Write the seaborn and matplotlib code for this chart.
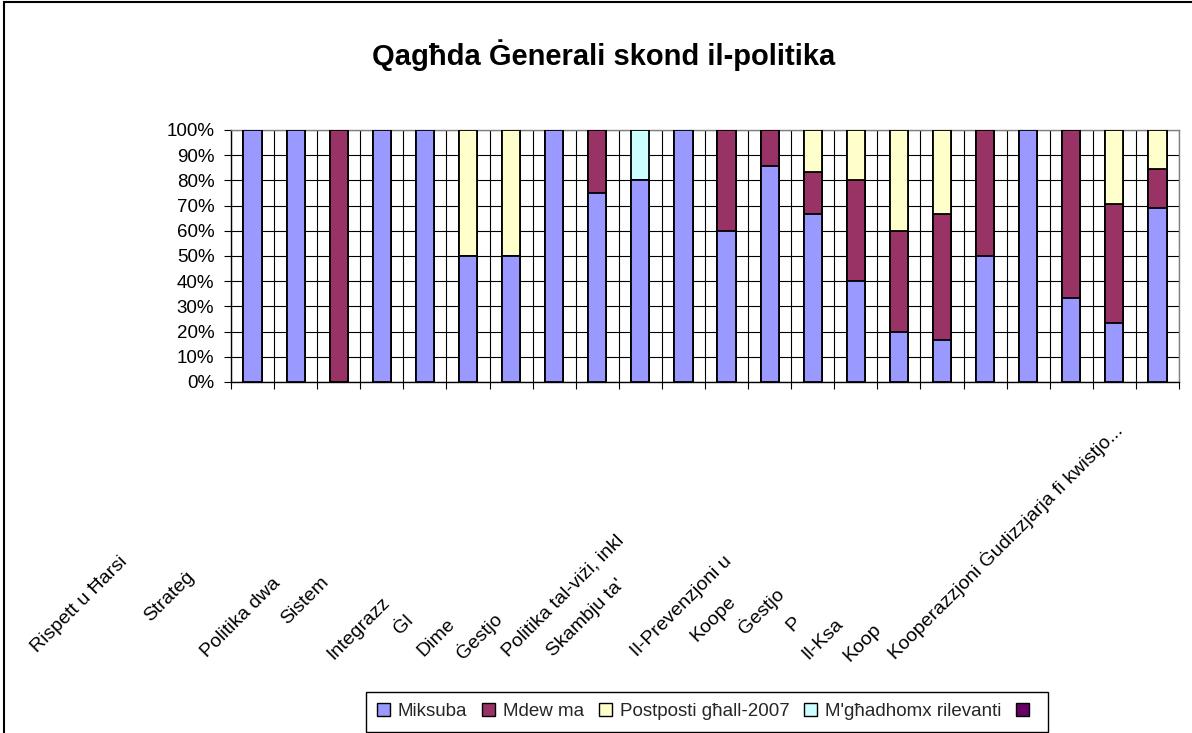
import numpy as np
import pandas as pd
import matplotlib
matplotlib.use("Agg")
import matplotlib.pyplot as plt
import seaborn as sns
from matplotlib.patches import Patch, Rectangle

# ---------------- data ----------------
title = "Qagħda Ġenerali skond il-politika"
series_names = ["Miksuba", "Mdew ma", "Postposti għall-2007", "M'għadhomx rilevanti", ""]
series_colors = ["#9999FF", "#993366", "#FFFFCC", "#CCFFFF", "#660066"]

miksuba   = [100, 100, 0, 100, 100, 50, 50, 100, 75, 80, 100, 60, 85.7, 66.7, 40, 20, 16.7, 50, 100, 33.3, 23.5, 69.2]
mdewma    = [0, 0, 100, 0, 0, 0, 0, 0, 25, 0, 0, 40, 14.3, 16.7, 40, 40, 50, 50, 0, 66.7, 47.1, 15.4]
postposti = [0, 0, 0, 0, 0, 50, 50, 0, 0, 0, 0, 0, 0, 16.6, 20, 40, 33.3, 0, 0, 0, 29.4, 15.4]
rilevanti = [0, 0, 0, 0, 0, 0, 0, 0, 0, 20, 0, 0, 0, 0, 0, 0, 0, 0, 0, 0, 0, 0]
ohrajn    = [0] * 22

category_labels = ["Rispett u Ħarsi", "Strateġ", "Politika dwa", "Sistem", "Integrazz", "Ġl",
                   "Dime", "Ġestjo", "Politika tal-viżi, inkl", "Skambju ta'", "Il-Prevenzjoni u",
                   "Koope", "Ġestjo", "P", "Il-Ksa", "Koop",
                   "Kooperazzjoni Ġudizzjarja fi kwistjo..."]
ytick_values = [0, 10, 20, 30, 40, 50, 60, 70, 80, 90, 100]

# ---------------- layout ----------------
W, H = 1192, 733
label_anchor_px = [(37, 653), (150, 622), (207, 658), (287, 625), (333, 660), (400, 635),
                   (423, 657), (463, 660), (508, 657), (553, 657), (637, 657),
                   (697, 642), (745, 635), (792, 632), (808, 660), (850, 662), (895, 660)]

sns.set_theme(style="white")
plt.rcParams["font.family"] = ["Liberation Sans", "DejaVu Sans"]

fig = plt.figure(figsize=(W / 100, H / 100), dpi=100)
fig.patch.set_facecolor("white")
ax = fig.add_axes([231 / W, 1 - 382 / H, 948 / W, 252 / H])
ax.set_axisbelow(True)

layers = np.array([miksuba, mdewma, postposti, rilevanti, ohrajn], dtype=float)
cum = np.cumsum(layers, axis=0)
n = layers.shape[1]
cats = list(range(1, n + 1))

for k in reversed(range(len(layers))):
    if not layers[k].any():
        continue
    df = pd.DataFrame({"cat": cats, "val": cum[k]})
    sns.barplot(data=df, x="cat", y="val", color=series_colors[k], saturation=1,
                width=0.42, edgecolor="black", linewidth=1.3, errorbar=None,
                ax=ax, zorder=3)

ax.set_xlabel("")
ax.set_ylabel("")
ax.set_xlim(-0.5, n - 0.5)
ax.set_ylim(0, 100)

ax.set_xticks([])
ax.set_xticks(np.arange(-0.5, n, 1.0), minor=True)
ax.set_yticks(ytick_values)
ax.set_yticklabels([f"{v}%" for v in ytick_values], fontsize=13.5)
ax.grid(True, which="major", axis="y", color="black", linewidth=0.8)
ax.grid(True, which="minor", axis="x", color="black", linewidth=0.8)
ax.tick_params(axis="x", which="minor", bottom=True, length=5, width=0.8,
               direction="out", color="black")
ax.tick_params(axis="y", which="major", left=True, length=5, width=0.8,
               direction="out", color="black", pad=7, labelcolor="black")

for side in ["left", "bottom"]:
    ax.spines[side].set_color("black")
    ax.spines[side].set_linewidth(1.0)
for side in ["right", "top"]:
    ax.spines[side].set_color("#808080")
    ax.spines[side].set_linewidth(1.0)

for txt, (px, py) in zip(category_labels, label_anchor_px):
    fig.text(px / W, 1 - py / H, txt, rotation=45, rotation_mode="anchor",
             ha="left", va="baseline", fontsize=14, color="black")

fig.text(604 / W, 1 - 55 / H, title, ha="center", va="center",
         fontsize=21, fontweight="bold", color="black")

handles = [Patch(facecolor=c, edgecolor="black", linewidth=1.0) for c in series_colors]
leg = fig.legend(handles, series_names, loc="upper center",
                 bbox_to_anchor=(707 / W, 1 - 692 / H), ncol=5, frameon=True,
                 fancybox=False, edgecolor="black", framealpha=1, fontsize=13.5,
                 handlelength=0.7, handleheight=0.7, handletextpad=0.4,
                 columnspacing=0.8, borderaxespad=0, borderpad=0.6)
leg.get_frame().set_linewidth(1.0)

fig.patches.append(Rectangle((4 / W, -0.1), 1.2, 1 - 2 / H + 0.1,
                             transform=fig.transFigure, fill=False,
                             edgecolor="black", linewidth=1.5))

fig.savefig("out.png", dpi=100)
